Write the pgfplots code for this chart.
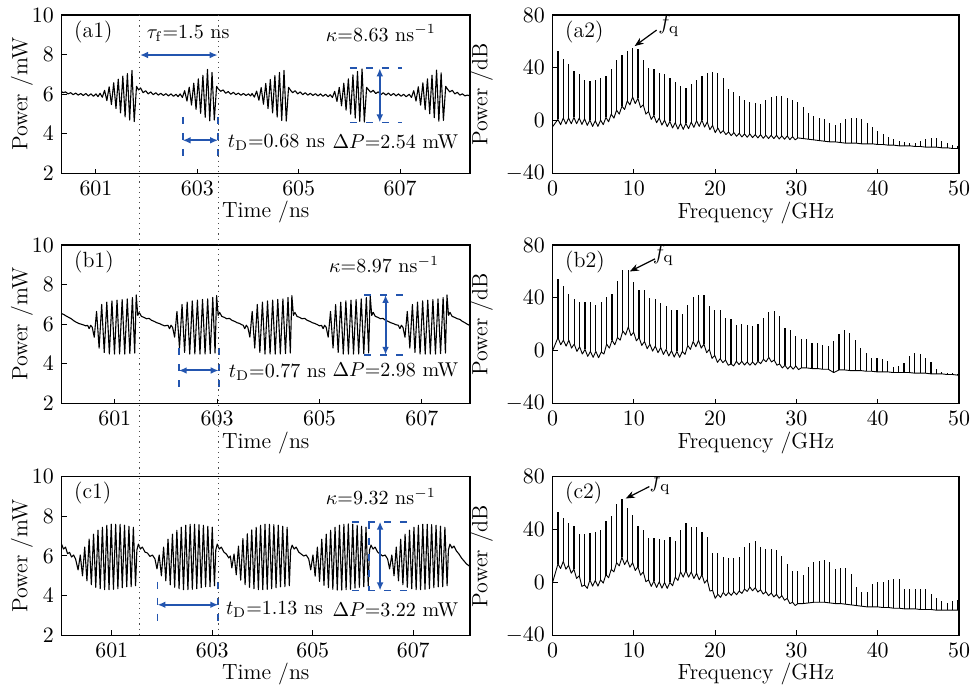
\documentclass[border=0pt]{standalone}
\usepackage{pgfplots}
\usepackage{pgfplotstable}
\pgfplotsset{compat=1.18}
\usetikzlibrary{arrows.meta}
\definecolor{myblue}{RGB}{35,85,175}
\newcommand\ann{\fontsize{10}{12}\selectfont}
\tikzset{
  barr/.style={myblue, line width=1pt, {Latex[length=4pt,width=3.4pt]}-{Latex[length=4pt,width=3.4pt]}},
  bdash/.style={myblue, line width=0.9pt, dash pattern=on 3.5pt off 4.5pt},
}

\pgfplotstableread{
f fl pk
0 -4.5 -4.5
0.656 1 53
0.984 -3 -3
1.312 2 47
1.640 -2.5 -2.5
1.968 2 43
2.296 -2.3 -2.3
2.624 2.5 38
2.952 -2.3 -2.3
3.280 2 35
3.608 -2.8 -2.8
3.936 1.5 31
4.264 -3.5 -3.5
4.592 0.5 30
4.920 -4.3 -4.3
5.248 0 31
5.576 -4.3 -4.3
5.904 0.5 32
6.232 -3 -3
6.560 2.5 34
6.888 -0.8 -0.8
7.216 5 39
7.544 2 2
7.872 8 46
8.200 5 5
8.528 11 50
8.856 8.5 8.5
9.184 15 53
9.512 12 12
9.840 18 55
10.168 13 13
10.496 17 54.5
10.824 10 10
11.152 12 46
11.480 5 5
11.808 7 40
12.136 1 1
12.464 4 39
12.792 -1.5 -1.5
13.120 2 36
13.448 -3.3 -3.3
13.776 0.5 35
14.104 -4.5 -4.5
14.432 -0.5 32
14.760 -5.5 -5.5
15.088 -1.5 29
15.416 -6.3 -6.3
15.744 -2 26
16.072 -6.5 -6.5
16.400 -2 25
16.728 -6 -6
17.056 -1 28
17.384 -5 -5
17.712 0 31
18.040 -4.3 -4.3
18.368 0.5 34
18.696 -4.8 -4.8
19.024 -1 36
19.352 -6.8 -6.8
19.680 -3.5 37
20.008 -9 -9
20.336 -5.5 36
20.664 -9.5 -9.5
20.992 -7.5 32
21.320 -10.5 -10.5
21.648 -8.5 24
21.976 -11.3 -11.3
22.304 -9 22
22.632 -11.8 -11.8
22.960 -9.5 19
23.288 -12.3 -12.3
23.616 -10 16
23.944 -12.5 -12.5
24.272 -10 14
24.600 -12.8 -12.8
24.928 -10.5 13.7
25.256 -13 -13
25.584 -10.5 13
25.912 -13.3 -13.3
26.240 -11 15.5
26.568 -13.5 -13.5
26.896 -11 18
27.224 -13.5 -13.5
27.552 -11 19
27.880 -13.8 -13.8
28.208 -11.5 19
28.536 -14 -14
28.864 -11.5 17.5
29.192 -14.3 -14.3
29.520 -12 16
29.848 -14.5 -14.5
30.176 -13 14
30.832 -13.5 10.5
31.488 -14 6
32.144 -14.5 3.5
32.800 -15 1.7
33.456 -15.5 1
34.112 -16 -1.5
34.768 -16 -3
35.424 -16.5 -1.5
36.080 -17 1
36.736 -17 1.7
37.392 -17 1.7
38.048 -17.5 1
38.704 -17.5 -1.5
39.360 -17.5 -4.5
40.016 -18 -7.5
40.672 -18 -10
41.328 -18.5 -12
41.984 -18.5 -13.5
42.640 -19 -15
43.296 -19 -16
43.952 -19 -17
44.608 -19.5 -17
45.264 -19.5 -15
45.920 -20 -13.5
46.576 -20 -13
47.232 -20 -13
47.888 -20.5 -15
48.544 -20.5 -17
49.200 -21 -18.5
49.856 -21 -19.5
50 -21 -21
}\tabAtwo

\pgfplotstableread{
f fl pk
0 0 0
0.665 10 54
0.9975 4.5 4.5
1.330 8 49
1.6625 3.5 3.5
1.995 8 43
2.3275 2 2
2.660 5 39
2.9925 -0.5 -0.5
3.325 3 37
3.6575 -2.5 -2.5
3.990 1 37
4.3225 -4.3 -4.3
4.655 -0.5 37
4.9875 -5 -5
5.320 -0.5 34.5
5.6525 -5.3 -5.3
5.985 -1 37
6.3175 -2.5 -2.5
6.650 5 41
6.9825 2 2
7.315 8 43
7.6475 4.5 4.5
7.980 10 53
8.3125 8 8
8.645 15 61
8.9775 12 12
9.310 18 61
9.6425 11.5 11.5
9.975 14 52
10.3075 7.5 7.5
10.640 10 46
10.9725 4 4
11.305 7 46
11.6375 1.5 1.5
11.970 5 40
12.3025 -0.3 -0.3
12.635 3.5 39.5
12.9675 -1.5 -1.5
13.300 2.5 36
13.6325 -2.8 -2.8
13.965 1 34
14.2975 -4 -4
14.630 0 31
14.9625 -4.8 -4.8
15.295 -0.5 31
15.6275 -5 -5
15.960 -0.5 28
16.2925 -2.8 -2.8
16.625 4 34.5
16.9575 1 1
17.290 7 41
17.6225 3 3
17.955 8 42
18.2875 2 2
18.620 5 42
18.9525 -1.5 -1.5
19.285 1 34
19.6175 -5.8 -5.8
19.950 -3.5 31
20.2825 -8.8 -8.8
20.615 -6 31
20.9475 -9 -9
21.280 -7 24.5
21.6125 -11 -11
21.945 -10 24
22.2775 -11.5 -11.5
22.610 -8 19.5
22.9425 -10.5 -10.5
23.275 -8 20
23.6075 -10.8 -10.8
23.940 -8.5 19.5
24.2725 -11 -11
24.605 -8.5 18.5
24.9375 -10.8 -10.8
25.270 -8 20
25.6025 -9.8 -9.8
25.935 -6.5 24.5
26.2675 -8.3 -8.3
26.600 -5 29.5
26.9325 -8.5 -8.5
27.265 -7 30
27.5975 -11 -11
27.930 -10 26
28.2625 -13 -13
28.595 -11 17
28.9275 -13.8 -13.8
29.260 -11.5 15.6
29.5925 -14 -14
29.925 -11.5 11
30.2575 -14.3 -14.3
30.590 -13 8.5
31.255 -13 8.5
31.920 -13.5 6
32.585 -13.5 6
33.250 -14 4
33.915 -14 3.5
34.580 -16.5 7.5
35.245 -14.5 12.6
35.910 -14.5 16
36.575 -15 13.6
37.240 -15 8
37.905 -15 1.8
38.570 -15.5 -2
39.235 -15.5 -5.8
39.900 -16 -5.8
40.565 -16 -6.5
41.230 -16 -7.6
41.895 -16.5 -12
42.560 -16.5 -11.6
43.225 -16.5 -9
43.890 -16.5 -4
44.555 -17 -1.5
45.220 -17 -2.5
45.885 -17 -5.8
46.550 -17.5 -8.3
47.215 -17.5 -14
47.880 -17.5 -16
48.545 -18 -16.6
49.210 -18 -17
49.875 -18.5 -17.6
50 -18.5 -18.5
}\tabBtwo

\pgfplotstableread{
f fl pk
0 0 0
0.656 14 53.6
0.984 10.5 10.5
1.312 16 48.6
1.640 10 10
1.968 13 45
2.296 7 7
2.624 10 43
2.952 3 3
3.280 5 37
3.608 -3 -3
3.936 -2 37
4.264 -4.5 -4.5
4.592 2 37.6
4.920 -2.8 -2.8
5.248 1.5 38
5.576 -2.8 -2.8
5.904 2 40
6.232 -0.5 -0.5
6.560 6 46.6
6.888 3.5 3.5
7.216 10 50
7.544 8 8
7.872 15 59.6
8.200 12.5 12.5
8.528 19 63
8.856 13.5 13.5
9.184 17 56
9.512 11.5 11.5
9.840 15 51
10.168 9 9
10.496 12 43
10.824 5.5 5.5
11.152 8 39.6
11.480 0.5 0.5
11.808 2 33.6
12.136 -3 -3
12.464 1 33.6
12.792 -3.8 -3.8
13.120 0.5 32.6
13.448 -4.3 -4.3
13.776 0 32
14.104 -4.5 -4.5
14.432 0 34.6
14.760 -2.5 -2.5
15.088 4 31.6
15.416 1.5 1.5
15.744 8 39.6
16.072 4 4
16.400 9 45
16.728 4 4
17.056 8 42
17.384 3 3
17.712 7 42
18.040 2 2
18.368 6 38
18.696 -0.5 -0.5
19.024 2 34
19.352 -6.5 -6.5
19.680 -6 22
20.008 -12 -12
20.336 -9 22
20.664 -11.3 -11.3
20.992 -7.5 19
21.320 -10 -10
21.648 -7.5 18.5
21.976 -9.8 -9.8
22.304 -7 18.5
22.632 -9.3 -9.3
22.960 -6.5 19.5
23.288 -8.3 -8.3
23.616 -5 27
23.944 -6.8 -6.8
24.272 -3.5 30
24.600 -6.3 -6.3
24.928 -4 31.6
25.256 -7.3 -7.3
25.584 -5.5 27
25.912 -8.8 -8.8
26.240 -7 25
26.568 -10 -10
26.896 -8 25
27.224 -11 -11
27.552 -9 24.5
27.880 -12 -12
28.208 -10 20
28.536 -13.5 -13.5
28.864 -12 14
29.192 -16 -16
29.520 -15 9
29.848 -17.5 -17.5
30.176 -16 9
30.832 -16 5.3
31.488 -15.5 11.5
32.144 -15 15.8
32.800 -15 16.5
33.456 -15 17
34.112 -15.5 15.3
34.768 -16 10.3
35.424 -16 10.8
36.080 -16.5 10.8
36.736 -17 6.5
37.392 -17.5 -3.5
38.048 -18 -7.3
38.704 -18.5 -7.3
39.360 -18.5 -1.5
40.016 -18.5 0.3
40.672 -19 0.3
41.328 -19 2
41.984 -19.5 2.8
42.640 -19.5 2.5
43.296 -20 -4.8
43.952 -20 -5
44.608 -20 -4.8
45.264 -20.5 -5
45.920 -20.5 -5
46.576 -20.5 -8.5
47.232 -21 -11.8
47.888 -21 -14.3
48.544 -21 -15.5
49.200 -21 -14
49.856 -21 -13
50 -21 -21
}\tabCtwo

\begin{document}
\fontsize{11}{13}\selectfont
\begin{tikzpicture}
\useasboundingbox (0,0) rectangle (486.5pt,-344pt);
\pgfplotsset{
  base/.style={scale only axis, height=79.3pt, tick align=inside, tick pos=left,
    major tick length=2.5pt, axis line style={line width=0.6pt},
    every tick/.style={black, line width=0.5pt}, scaled ticks=false,
    xlabel style={yshift=4.5pt}},
  lpanel/.style={base, width=204.25pt, ymin=2, ymax=10, ytick={2,4,6,8,10},
    xtick={601,603,605,607}, xlabel={Time /ns}, ylabel={Power /mW}, ylabel shift=-8pt},
  rpanel/.style={base, width=203.2pt, xmin=0, xmax=50, ymin=-40, ymax=80,
    xtick={0,10,20,30,40,50}, ytick={-40,0,40,80}, xlabel={Frequency /GHz}, ylabel={Power /dB}, ylabel shift=-1pt},
  trace/.style={black, line width=0.55pt, line join=round, mark=none},
  spec/.style={black, line width=0.45pt, line join=round, mark=none,
    error bars/.cd, y dir=plus, y explicit, error mark=none,
    error bar style={black, line width=0.6pt}},
}
% ---------- (a1)
\begin{axis}[lpanel, at={(30.75pt,-7.5pt)}, anchor=north west, xmin=600.32, xmax=608.38]
\addplot[trace] coordinates {
(600.30,6.18) (600.35,6.08) (600.40,6.12) (600.45,6.02) (600.50,6.08) (600.55,5.98) (600.60,6.06) (600.65,5.96)
(600.70,6.04) (600.75,5.94) (600.80,6.04) (600.85,5.92) (600.90,6.02) (600.95,5.90) (601.00,6.02) (601.04,5.88)
(601.080,6.05) (601.125,5.85) (601.170,6.20) (601.215,5.68) (601.260,6.38) (601.305,5.48) (601.350,6.58) (601.395,5.28)
(601.440,6.76) (601.485,5.06) (601.530,6.92) (601.575,4.86) (601.620,7.05) (601.665,4.70) (601.710,7.20) (601.755,4.62)
(601.800,6.40) (601.84,6.22) (601.88,6.32) (601.93,6.08) (601.98,6.18) (602.03,6.02) (602.08,6.12) (602.13,5.98)
(602.18,6.08) (602.23,5.96) (602.28,6.05) (602.33,5.94) (602.38,6.03) (602.43,5.92) (602.48,6.02) (602.53,5.90)
(602.58,6.00) (602.62,5.88)
(602.660,6.02) (602.705,5.84) (602.750,6.18) (602.795,5.66) (602.840,6.36) (602.885,5.46) (602.930,6.56) (602.975,5.24)
(603.020,6.78) (603.065,5.04) (603.110,6.96) (603.155,4.84) (603.200,7.25) (603.245,4.66) (603.290,7.10) (603.335,4.70)
(603.380,6.40) (603.42,6.25) (603.46,6.15) (603.51,6.22) (603.56,6.05) (603.61,6.14) (603.66,6.00) (603.71,6.10)
(603.76,5.98) (603.81,6.06) (603.86,5.95) (603.91,6.04) (603.96,5.94) (604.01,6.02) (604.05,5.92)
(604.080,6.04) (604.125,5.86) (604.170,6.16) (604.215,5.70) (604.260,6.34) (604.305,5.50) (604.350,6.55) (604.395,5.28)
(604.440,6.75) (604.485,5.06) (604.530,6.95) (604.575,4.85) (604.620,7.10) (604.665,4.68) (604.710,7.20) (604.755,4.65)
(604.800,6.35) (604.84,6.20) (604.88,6.08) (604.93,6.18) (604.98,6.02) (605.03,6.12) (605.08,5.98) (605.13,6.08)
(605.18,5.96) (605.23,6.05) (605.28,5.94) (605.33,6.03) (605.38,5.92) (605.43,6.02) (605.48,5.90) (605.53,6.00) (605.58,5.88)
(605.620,5.98) (605.665,5.84) (605.710,6.15) (605.755,5.64) (605.800,6.35) (605.845,5.42) (605.890,6.56) (605.935,5.20)
(605.980,6.78) (606.025,5.00) (606.070,6.98) (606.115,4.80) (606.160,7.15) (606.205,4.64) (606.250,7.28) (606.295,4.60)
(606.340,6.35) (606.38,6.22) (606.42,6.10) (606.47,6.20) (606.52,6.04) (606.57,6.12) (606.62,5.98) (606.67,6.08)
(606.72,5.96) (606.77,6.06) (606.82,5.94) (606.87,6.04) (606.92,5.92) (606.97,6.02) (607.02,5.90) (607.07,6.00) (607.12,5.88)
(607.180,6.00) (607.225,5.84) (607.270,6.18) (607.315,5.66) (607.360,6.38) (607.405,5.45) (607.450,6.58) (607.495,5.22)
(607.540,6.78) (607.585,5.02) (607.630,6.96) (607.675,4.82) (607.720,7.22) (607.765,4.64) (607.810,7.08) (607.855,4.68)
(607.900,6.40) (607.94,6.25) (607.98,6.12) (608.03,6.20) (608.08,6.02) (608.13,6.10) (608.18,5.96) (608.23,6.02)
(608.28,5.92) (608.33,5.96) (608.40,5.90)
};
\node[anchor=west] at (rel axis cs:0.012,0.895) {(a1)};
\node[anchor=west, font=\ann] at (rel axis cs:0.19,0.885) {$\tau_{\mathrm{f}}$=1.5 ns};
\draw[barr] (axis cs:601.87,7.98) -- (axis cs:603.40,7.98);
\node[anchor=east, font=\ann] at (rel axis cs:0.935,0.885) {$\kappa$=8.63 ns$^{-1}$};
\draw[bdash] (axis cs:602.71,4.86) -- (axis cs:602.71,2.76);
\draw[bdash] (axis cs:603.41,4.86) -- (axis cs:603.41,2.76);
\draw[barr] (axis cs:602.71,3.68) -- (axis cs:603.41,3.68);
\node[anchor=west, font=\ann] at (axis cs:603.45,3.6) {$t_{\mathrm{D}}$=0.68 ns};
\draw[bdash] (axis cs:606.01,7.31) -- (axis cs:607.03,7.31);
\draw[bdash] (axis cs:606.01,4.58) -- (axis cs:607.03,4.58);
\draw[barr] (axis cs:606.60,7.31) -- (axis cs:606.60,4.58);
\node[anchor=east, font=\ann] at (rel axis cs:0.99,0.2) {$\Delta P$=2.54 mW};
\end{axis}
% ---------- (b1)
\begin{axis}[lpanel, at={(30.75pt,-122.5pt)}, anchor=north west, xmin=599.96, xmax=607.94]
\addplot[trace] coordinates {
(599.95,6.55) (600.00,6.50) (600.05,6.42) (600.10,6.35) (600.15,6.28) (600.20,6.18) (600.25,6.10) (600.30,6.04)
(600.35,6.00) (600.40,5.96) (600.43,5.92) (600.47,5.95) (600.50,5.78) (600.53,5.95) (600.56,5.85) (600.60,5.35)
(600.645,6.65) (600.695,4.80) (600.745,7.00) (600.795,4.58) (600.845,7.12) (600.895,4.50) (600.945,7.18) (600.995,4.50)
(601.045,7.22) (601.095,4.50) (601.145,7.25) (601.195,4.50) (601.245,7.28) (601.295,4.52) (601.345,7.35) (601.390,4.55)
(601.420,7.48) (601.45,6.45) (601.48,6.60) (601.52,6.40) (601.57,6.35) (601.62,6.28) (601.67,6.30) (601.72,6.20)
(601.77,6.15) (601.82,6.08) (601.87,6.04) (601.92,5.98) (601.97,5.92)
(602.04,5.95) (602.07,5.78) (602.10,5.95) (602.13,5.85) (602.17,5.35)
(602.215,6.65) (602.265,4.80) (602.315,7.00) (602.365,4.58) (602.415,7.12) (602.465,4.50) (602.515,7.18) (602.565,4.50)
(602.615,7.22) (602.665,4.50) (602.715,7.25) (602.765,4.50) (602.815,7.28) (602.865,4.52) (602.915,7.35) (602.960,4.55)
(602.990,7.45) (603.02,6.45) (603.05,6.60) (603.09,6.40) (603.14,6.35) (603.19,6.28) (603.24,6.30) (603.29,6.20)
(603.34,6.15) (603.39,6.08) (603.44,6.04) (603.48,5.98)
(603.51,5.95) (603.54,5.78) (603.57,5.95) (603.60,5.85) (603.64,5.35)
(603.685,6.65) (603.735,4.80) (603.785,7.00) (603.835,4.58) (603.885,7.12) (603.935,4.50) (603.985,7.18) (604.035,4.50)
(604.085,7.22) (604.135,4.50) (604.185,7.25) (604.235,4.50) (604.285,7.28) (604.335,4.52) (604.385,7.35) (604.430,4.55)
(604.460,7.45) (604.49,6.45) (604.52,6.60) (604.56,6.40) (604.61,6.35) (604.66,6.28) (604.71,6.30) (604.76,6.20)
(604.81,6.15) (604.86,6.08) (604.91,6.04) (604.96,5.98) (605.00,5.92)
(605.04,5.95) (605.07,5.78) (605.10,5.95) (605.13,5.85) (605.17,5.35)
(605.215,6.65) (605.265,4.80) (605.315,7.00) (605.365,4.58) (605.415,7.12) (605.465,4.50) (605.515,7.18) (605.565,4.50)
(605.615,7.22) (605.665,4.50) (605.715,7.25) (605.765,4.50) (605.815,7.28) (605.865,4.52) (605.915,7.35) (605.960,4.55)
(605.990,7.45) (606.02,6.45) (606.05,6.60) (606.09,6.40) (606.14,6.35) (606.19,6.28) (606.24,6.30) (606.29,6.20)
(606.34,6.15) (606.39,6.08) (606.44,6.04) (606.49,5.98)
(606.54,5.95) (606.57,5.78) (606.60,5.95) (606.63,5.85) (606.67,5.35)
(606.715,6.65) (606.765,4.80) (606.815,7.00) (606.865,4.58) (606.915,7.12) (606.965,4.50) (607.015,7.18) (607.065,4.50)
(607.115,7.22) (607.165,4.50) (607.215,7.25) (607.265,4.50) (607.315,7.28) (607.365,4.52) (607.415,7.35) (607.460,4.55)
(607.490,7.48) (607.52,6.45) (607.55,6.60) (607.59,6.40) (607.64,6.35) (607.69,6.28) (607.74,6.25) (607.79,6.15)
(607.84,6.08) (607.89,6.00) (607.95,5.92)
};
\node[anchor=west] at (rel axis cs:0.012,0.895) {(b1)};
\node[anchor=east, font=\ann] at (rel axis cs:0.943,0.875) {$\kappa$=8.97 ns$^{-1}$};
\draw[bdash] (axis cs:602.25,4.80) -- (axis cs:602.25,2.70);
\draw[bdash] (axis cs:603.03,4.80) -- (axis cs:603.03,2.70);
\draw[barr] (axis cs:602.25,3.67) -- (axis cs:603.03,3.67);
\node[anchor=west, font=\ann] at (axis cs:603.08,3.6) {$t_{\mathrm{D}}$=0.77 ns};
\draw[bdash] (axis cs:605.87,7.48) -- (axis cs:606.68,7.48);
\draw[bdash] (axis cs:605.87,4.46) -- (axis cs:606.68,4.46);
\draw[barr] (axis cs:606.29,7.48) -- (axis cs:606.29,4.46);
\node[anchor=east, font=\ann] at (rel axis cs:0.99,0.21) {$\Delta P$=2.98 mW};
\end{axis}
% ---------- (c1)
\begin{axis}[lpanel, at={(30.75pt,-238.35pt)}, anchor=north west, xmin=600, xmax=608.13]
\addplot[trace] coordinates {
(600.00,6.60) (600.04,6.35) (600.08,6.45) (600.12,6.12) (600.16,6.18) (600.20,5.95) (600.24,6.05) (600.28,5.85) (600.33,5.30)
(600.374,6.05) (600.418,5.00) (600.462,6.45) (600.506,4.75) (600.550,6.85) (600.594,4.55) (600.638,7.10) (600.682,4.42)
(600.726,7.30) (600.770,4.35) (600.814,7.45) (600.858,4.30) (600.902,7.55) (600.946,4.30) (600.990,7.60) (601.034,4.32)
(601.078,7.60) (601.122,4.35) (601.166,7.60) (601.210,4.40) (601.254,7.55) (601.298,4.45) (601.342,7.50) (601.386,4.45)
(601.430,7.45) (601.474,4.50)
(601.50,6.30) (601.53,6.60) (601.57,6.35) (601.61,6.45) (601.66,6.20) (601.71,6.15) (601.76,5.98) (601.81,6.05) (601.86,5.85) (601.90,5.35)
(601.944,6.05) (601.988,5.00) (602.032,6.45) (602.076,4.75) (602.120,6.85) (602.164,4.55) (602.208,7.10) (602.252,4.42)
(602.296,7.30) (602.340,4.35) (602.384,7.45) (602.428,4.30) (602.472,7.55) (602.516,4.30) (602.560,7.60) (602.604,4.32)
(602.648,7.60) (602.692,4.35) (602.736,7.58) (602.780,4.40) (602.824,7.55) (602.868,4.45) (602.912,7.50) (602.956,4.45)
(603.000,7.45) (603.044,4.50)
(603.07,6.30) (603.10,6.60) (603.14,6.35) (603.18,6.45) (603.23,6.20) (603.28,6.10) (603.33,5.90) (603.36,6.00) (603.39,5.40)
(603.434,6.10) (603.478,5.05) (603.522,6.50) (603.566,4.78) (603.610,6.88) (603.654,4.55) (603.698,7.12) (603.742,4.42)
(603.786,7.32) (603.830,4.35) (603.874,7.45) (603.918,4.30) (603.962,7.55) (604.006,4.30) (604.050,7.60) (604.094,4.32)
(604.138,7.60) (604.182,4.35) (604.226,7.58) (604.270,4.40) (604.314,7.55) (604.358,4.45) (604.402,7.50) (604.446,4.45)
(604.490,7.45) (604.534,4.50)
(604.56,6.30) (604.59,6.55) (604.63,6.35) (604.67,6.45) (604.72,6.20) (604.77,6.10) (604.82,6.00) (604.87,6.05) (604.92,5.85) (604.96,5.30)
(605.004,6.05) (605.048,4.98) (605.092,6.45) (605.136,4.72) (605.180,6.85) (605.224,4.52) (605.268,7.10) (605.312,4.40)
(605.356,7.30) (605.400,4.32) (605.444,7.45) (605.488,4.28) (605.532,7.55) (605.576,4.28) (605.620,7.60) (605.664,4.30)
(605.708,7.62) (605.752,4.32) (605.796,7.60) (605.840,4.38) (605.884,7.55) (605.928,4.42) (605.972,7.50) (606.016,4.45)
(606.060,7.45) (606.104,4.48)
(606.13,6.30) (606.16,6.55) (606.20,6.35) (606.24,6.45) (606.29,6.20) (606.34,6.10) (606.39,6.00) (606.44,6.05) (606.49,5.85) (606.53,5.35)
(606.574,6.05) (606.618,5.00) (606.662,6.45) (606.706,4.75) (606.750,6.85) (606.794,4.55) (606.838,7.10) (606.882,4.42)
(606.926,7.30) (606.970,4.35) (607.014,7.45) (607.058,4.30) (607.102,7.55) (607.146,4.30) (607.190,7.60) (607.234,4.32)
(607.278,7.60) (607.322,4.35) (607.366,7.58) (607.410,4.40) (607.454,7.55) (607.498,4.45) (607.542,7.50) (607.586,4.45)
(607.630,7.45) (607.674,4.50)
(607.70,6.30) (607.73,6.60) (607.77,6.40) (607.81,6.50) (607.86,6.25) (607.91,6.10) (607.96,5.90) (608.01,5.75) (608.06,5.60) (608.14,5.45)
};
\node[anchor=west] at (rel axis cs:0.012,0.895) {(c1)};
\node[anchor=east, font=\ann] at (rel axis cs:0.935,0.875) {$\kappa$=9.32 ns$^{-1}$};
\draw[bdash] (axis cs:601.91,4.71) -- (axis cs:601.91,2.61);
\draw[bdash] (axis cs:603.12,4.71) -- (axis cs:603.12,2.61);
\draw[barr] (axis cs:601.91,3.54) -- (axis cs:603.12,3.54);
\node[anchor=west, font=\ann] at (axis cs:603.12,3.3) {$t_{\mathrm{D}}$=1.13 ns};
\draw[bdash] (axis cs:605.78,7.73) -- (axis cs:606.93,7.73);
\draw[bdash] (axis cs:605.78,4.26) -- (axis cs:606.93,4.26);
\draw[bdash] (axis cs:606.12,7.73) -- (axis cs:606.12,4.26);
\draw[barr] (axis cs:606.34,7.73) -- (axis cs:606.34,4.26);
\node[anchor=east, font=\ann] at (rel axis cs:0.99,0.16) {$\Delta P$=3.22 mW};
\end{axis}
% ---------- (a2)
\begin{axis}[rpanel, at={(276.3pt,-7.5pt)}, anchor=north west]
\addplot[spec] table[x=f, y=fl, y error expr=\thisrow{pk}-\thisrow{fl}] {\tabAtwo};
\node[anchor=west] at (rel axis cs:0.012,0.895) {(a2)};
\node at (axis cs:14.3,72) {$f_{\mathrm{q}}$};
\draw[line width=0.6pt, -{Stealth[length=4.5pt,width=3.5pt]}] (axis cs:12.8,68.6) -- (axis cs:10.1,56.5);
\end{axis}
% ---------- (b2)
\begin{axis}[rpanel, at={(276.3pt,-122.5pt)}, anchor=north west]
\addplot[spec] table[x=f, y=fl, y error expr=\thisrow{pk}-\thisrow{fl}] {\tabBtwo};
\node[anchor=west] at (rel axis cs:0.012,0.895) {(b2)};
\node at (axis cs:13.6,72.5) {$f_{\mathrm{q}}$};
\draw[line width=0.6pt, -{Stealth[length=4.5pt,width=3.5pt]}] (axis cs:12.6,69.5) -- (axis cs:9.5,60);
\end{axis}
% ---------- (c2)
\begin{axis}[rpanel, at={(276.3pt,-238.35pt)}, anchor=north west]
\addplot[spec] table[x=f, y=fl, y error expr=\thisrow{pk}-\thisrow{fl}] {\tabCtwo};
\node[anchor=west] at (rel axis cs:0.012,0.895) {(c2)};
\node at (axis cs:13.2,75) {$f_{\mathrm{q}}$};
\draw[line width=0.6pt, -{Stealth[length=4.5pt,width=3.5pt]}] (axis cs:11.9,72.5) -- (axis cs:9.0,63.5);
\end{axis}
% dotted guide lines
\draw[black!70, dotted, line width=0.6pt] (69.65pt,-7.5pt) -- (69.65pt,-317.65pt);
\draw[black!70, dotted, line width=0.6pt] (109.15pt,-7.5pt) -- (109.15pt,-317.65pt);
\end{tikzpicture}
\end{document}
